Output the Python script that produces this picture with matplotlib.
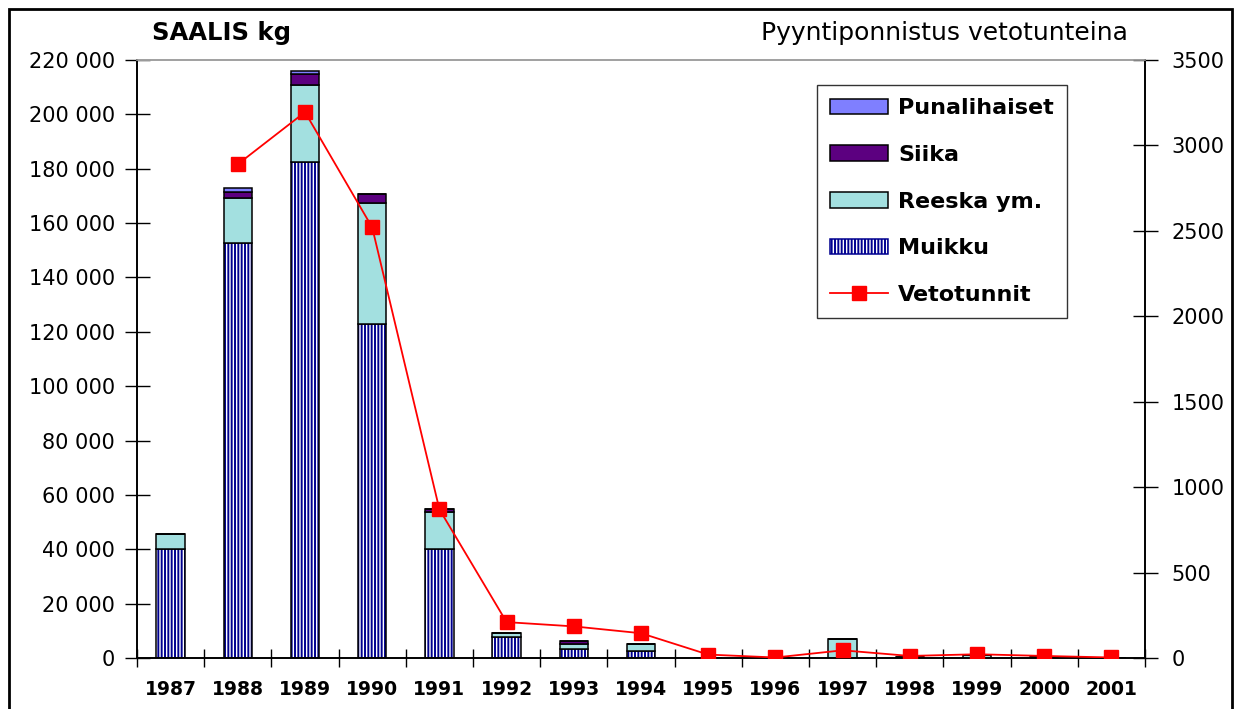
import numpy as np
import matplotlib
matplotlib.use("Agg")
import matplotlib.pyplot as plt
from matplotlib.patches import Rectangle, Patch
from matplotlib.lines import Line2D

# data
years = ["1987", "1988", "1989", "1990", "1991", "1992", "1993", "1994",
         "1995", "1996", "1997", "1998", "1999", "2000", "2001"]
muikku = [40100, 152600, 182600, 122900, 40100, 7800, 3300, 2600, 0, 0, 0, 0, 0, 0, 0]
reeska = [5500, 16500, 28100, 44600, 13600, 1300, 2000, 2400, 0, 0, 7000, 0, 1200, 0, 0]
siika = [0, 2500, 4200, 3100, 1200, 0, 1000, 0, 0, 0, 0, 300, 0, 300, 0]
puna = [0, 1200, 1200, 0, 0, 0, 0, 0, 0, 0, 0, 0, 0, 0, 0]
vetotunnit = [np.nan, 2890, 3195, 2520, 870, 210, 185, 145, 20, 3, 45, 12, 22, 12, 3]

plt.rcParams['font.family'] = ['DejaVu Sans']
plt.rcParams['hatch.linewidth'] = 1.4

W, H = 1236, 709
fig = plt.figure(figsize=(W / 100, H / 100), dpi=100)
ax = fig.add_axes([137 / W, 1 - 658 / H, (1145 - 137) / W, (658 - 60) / H])
ax2 = ax.twinx()

x = np.arange(len(years))
bw = 0.42
muikku = np.array(muikku)
reeska = np.array(reeska)
siika = np.array(siika)
puna = np.array(puna)

# muikku: white with navy vertical stripes, black outline on top
ax.bar(x, muikku, bw, color="white", edgecolor="#000090", hatch="|||||", linewidth=0, zorder=2)
ax.bar(x, muikku, bw, fill=False, edgecolor="black", linewidth=1.1, zorder=3)
b1 = muikku
ax.bar(x, reeska, bw, bottom=b1, color="#a3e0e0", edgecolor="black", linewidth=1.1, zorder=3)
b2 = b1 + reeska
ax.bar(x, siika, bw, bottom=b2, color="#5c0080", edgecolor="black", linewidth=1.1, zorder=3)
b3 = b2 + siika
ax.bar(x, puna, bw, bottom=b3, color="#7f7fff", edgecolor="black", linewidth=1.1, zorder=3)

ax2.plot(x, vetotunnit, color="red", lw=1.3, marker="s", ms=9.5, mec="red", mfc="red", zorder=4)

ax.set_xlim(-0.5, len(years) - 0.5)
ax.set_ylim(0, 220000)
ax2.set_ylim(0, 3500)

yt = np.arange(0, 220001, 20000)
ax.set_yticks(yt)
ax.set_yticklabels([f"{int(v):,}".replace(",", " ") for v in yt], fontsize=15)
ax2.set_yticks(np.arange(0, 3501, 500))
ax2.set_yticklabels([str(v) for v in range(0, 3501, 500)], fontsize=15)

ax.set_xticks(np.arange(-0.5, len(years), 1.0))
ax.set_xticklabels([])
ax.set_xticks(x, minor=True)
ax.set_xticklabels(years, minor=True, fontsize=13.5, fontweight="bold")
ax.tick_params(axis="x", which="major", direction="inout", length=13, width=1)
ax.tick_params(axis="x", which="minor", length=0, pad=16)
ax.tick_params(axis="y", direction="inout", length=18, width=1, pad=7)
ax2.tick_params(axis="y", direction="inout", length=18, width=1, pad=10)

for a in (ax, ax2):
    a.spines["top"].set_color("#a0a0a0")
    a.spines["top"].set_linewidth(1.2)
    a.spines["left"].set_linewidth(1.2)
    a.spines["right"].set_linewidth(1.2)
    a.spines["bottom"].set_linewidth(1.2)

fig.text(152 / W, 1 - 33 / H, "SAALIS kg", fontsize=17.5, fontweight="bold", ha="left", va="center")
fig.text(1128 / W, 1 - 33 / H, "Pyyntiponnistus vetotunteina", fontsize=18, ha="right", va="center")

handles = [
    Patch(facecolor="#7f7fff", edgecolor="black", linewidth=1.1),
    Patch(facecolor="#5c0080", edgecolor="black", linewidth=1.1),
    Patch(facecolor="#a3e0e0", edgecolor="black", linewidth=1.1),
    Patch(facecolor="white", edgecolor="#000090", hatch="|||||", linewidth=1.1),
    Line2D([], [], color="red", lw=1.3, marker="s", ms=9.5),
]
labels = ["Punalihaiset", "Siika", "Reeska ym.", "Muikku", "Vetotunnit"]
leg = ax2.legend(handles, labels, loc="upper left", bbox_to_anchor=(817 / W, 1 - 85 / H),
                 bbox_transform=fig.transFigure, prop={"size": 16, "weight": "bold"},
                 frameon=True, fancybox=False, shadow=False, handlelength=2.6, handleheight=0.7,
                 handletextpad=0.45, labelspacing=1.2, borderpad=0.6, borderaxespad=0)
leg.get_frame().set_edgecolor("black")
leg.get_frame().set_linewidth(1.0)

# outer chart border
fig.patches.append(Rectangle((9 / W, -0.05), (1232 - 9) / W, 1.05 - 9 / H, transform=fig.transFigure,
                             fill=False, edgecolor="black", linewidth=2))

fig.savefig("out.png", dpi=100)
